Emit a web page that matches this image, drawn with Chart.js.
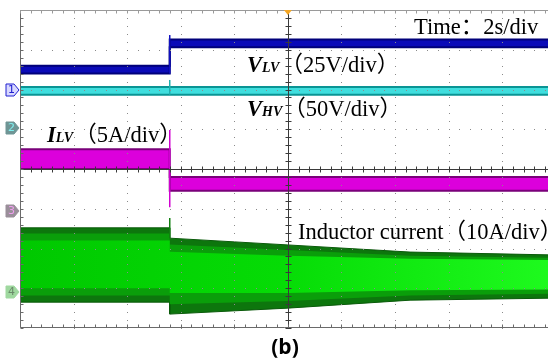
<!DOCTYPE html>
<html>
<head>
<meta charset="utf-8">
<script src="https://cdn.jsdelivr.net/npm/chart.js@4/dist/chart.umd.min.js"></script>
<style>
  html, body { margin: 0; padding: 0; background: #fff; }
  canvas { display: block; }
</style>
</head>
<body>
<canvas id="scope" width="548" height="363"></canvas>
<script>
// time in seconds (2 s/div), vertical values in divisions
const stepT = -4.41;
const tBand = [-10, stepT, stepT, 9.71];
const vlvHi = [2.60, 2.60, 3.26, 3.26];
const vlvLo = [2.40, 2.40, 3.06, 3.06];
const vhvHi = [2.06, 2.06, 2.06, 2.06];
const vhvLo = [1.87, 1.87, 1.87, 1.87];
const ilvHi = [0.50, 0.50, -0.20, -0.20];
const ilvLo = [0.00, 0.00, -0.55, -0.55];

const tInd = [-10, stepT, stepT, 0, 4.56, 9.71];
const indHi = [-1.48, -1.48, -1.74, -1.91, -2.09, -2.16];
const indLo = [-3.35, -3.35, -3.65, -3.50, -3.30, -3.25];
const indMidHi = [-1.62, -1.62, -1.90, -2.04, -2.18, -2.23];
const indMidLo = [-3.18, -3.18, -3.40, -3.32, -3.18, -3.14];
const indInHi = [-1.80, -1.80, -2.08, -2.18, -2.26, -2.29];
const indInLo = [-3.00, -3.00, -3.12, -3.12, -3.05, -3.03];

const tSpike = [stepT, stepT];
const vlvSpike = [2.40, 3.37];
const vhvSpike = [1.87, 2.24];
const ilvSpike = [0.98, -0.96];
const indSpike = [-1.23, -1.74];

const chLevels = [1.99, 1.03, -1.06, -3.09];
const chNames = ["1", "2", "3", "4"];

function pts(ts, vs) {
  return ts.map((t, i) => ({ x: t, y: vs[i] }));
}

function band(ts, hi, lo, fillColor, edgeColor, edgeWidth) {
  return [
    { data: pts(ts, hi), borderColor: edgeColor, borderWidth: edgeWidth, fill: false },
    { data: pts(ts, lo), borderColor: edgeColor, borderWidth: edgeWidth, fill: "-1", backgroundColor: fillColor }
  ];
}

function spike(vs, color) {
  return { data: pts(tSpike, vs), borderColor: color, borderWidth: 1.5, fill: false };
}

function greenFill(context) {
  const chart = context.chart;
  const a = chart.chartArea;
  if (!a) return "#00d000";
  const g = chart.ctx.createLinearGradient(a.left, 0, a.right, 0);
  g.addColorStop(0, "#00c800");
  g.addColorStop(0.5, "#06dc06");
  g.addColorStop(1, "#1efa1e");
  return g;
}

const datasets = [
  spike(vlvSpike, "#1010c0"),
  spike(vhvSpike, "#20b0b0"),
  spike(ilvSpike, "#d000d0"),
  spike(indSpike, "#108010"),
  ...band(tBand, vlvHi, vlvLo, "#0a0ab8", "#00007a", 2),
  ...band(tBand, vhvHi, vhvLo, "#40dede", "#0a9494", 2),
  ...band(tBand, ilvHi, ilvLo, "#dc00dc", "#7a007a", 2),
  ...band(tInd, indInHi, indInLo, greenFill, "rgba(0,0,0,0)", 0),
  ...band(tInd, indMidHi, indMidLo, "#0a9e0a", "rgba(0,0,0,0)", 0),
  ...band(tInd, indHi, indLo, "#0d760d", "#0a5a0a", 1)
];

const scopeGrid = {
  id: "scopeGrid",
  afterDatasetsDraw(chart) {
    const { ctx, chartArea: a, scales: { x, y } } = chart;
    ctx.save();
    // dotted division lines
    ctx.fillStyle = "#8a8a8a";
    for (let i = 1; i < 10; i++) {
      if (i === 5) continue;
      const px = Math.round(x.getPixelForValue(-10 + 2 * i));
      for (let j = 0; j <= 40; j++) {
        ctx.fillRect(px, Math.round(y.getPixelForValue(-4 + j * 0.2)), 1, 1);
      }
    }
    for (let j = 1; j < 8; j++) {
      if (j === 4) continue;
      const py = Math.round(y.getPixelForValue(-4 + j));
      for (let i = 0; i <= 50; i++) {
        const px = Math.round(x.getPixelForValue(-10 + i * 0.4));
        if (px <= a.right) ctx.fillRect(px, py, 1, 1);
      }
    }
    // centre lines with ticks
    const cx = Math.round(x.getPixelForValue(0)) + 0.5;
    const cy = Math.round(y.getPixelForValue(0)) + 0.5;
    ctx.strokeStyle = "#3a3a3a";
    ctx.lineWidth = 1;
    ctx.beginPath();
    ctx.moveTo(cx, a.top); ctx.lineTo(cx, a.bottom);
    ctx.moveTo(a.left, cy); ctx.lineTo(a.right, cy);
    for (let j = 0; j <= 40; j++) {
      const py = Math.round(y.getPixelForValue(-4 + j * 0.2)) + 0.5;
      ctx.moveTo(cx - 3, py); ctx.lineTo(cx + 3, py);
    }
    for (let i = 0; i <= 50; i++) {
      const px = Math.round(x.getPixelForValue(-10 + i * 0.4)) + 0.5;
      if (px > a.right) break;
      ctx.moveTo(px, cy - 3); ctx.lineTo(px, cy + 3);
    }
    ctx.stroke();
    // frame: left, top, bottom with inward ticks
    const l = a.left + 0.5, t = a.top + 0.5, b = a.bottom - 0.5;
    ctx.strokeStyle = "#6a6a6a";
    ctx.beginPath();
    ctx.moveTo(l, t); ctx.lineTo(l, b);
    ctx.moveTo(l, b); ctx.lineTo(a.right, b);
    for (let j = 0; j <= 40; j++) {
      const py = Math.round(y.getPixelForValue(-4 + j * 0.2)) + 0.5;
      ctx.moveTo(l, py); ctx.lineTo(l + 3, py);
    }
    for (let i = 0; i <= 50; i++) {
      const px = Math.round(x.getPixelForValue(-10 + i * 0.4)) + 0.5;
      if (px > a.right) break;
      ctx.moveTo(px, b); ctx.lineTo(px, b - 3);
    }
    ctx.stroke();
    ctx.strokeStyle = "#9a9a9a";
    ctx.beginPath();
    ctx.moveTo(l, t); ctx.lineTo(a.right, t);
    for (let i = 0; i <= 50; i++) {
      const px = Math.round(x.getPixelForValue(-10 + i * 0.4)) + 0.5;
      if (px > a.right) break;
      ctx.moveTo(px, t); ctx.lineTo(px, t + 3);
    }
    ctx.stroke();
    ctx.restore();
  }
};

function subLabel(ctx, x0, y0, main, sub, rest, size) {
  ctx.font = "italic bold " + size + "px 'Liberation Serif'";
  ctx.fillText(main, x0, y0);
  const w1 = ctx.measureText(main).width;
  ctx.font = "italic bold " + Math.round(size * 0.62) + "px 'Liberation Serif'";
  ctx.fillText(sub, x0 + w1, y0);
  const w2 = ctx.measureText(sub).width;
  ctx.font = size + "px 'Liberation Serif', 'Noto Sans CJK SC'";
  ctx.fillText(rest, x0 + w1 + w2 + 1, y0);
}

const scopeText = {
  id: "scopeText",
  afterDraw(chart) {
    const { ctx, chartArea: a, scales: { x, y } } = chart;
    ctx.save();
    // trigger marker
    const cx = x.getPixelForValue(0);
    ctx.fillStyle = "#f5a623";
    ctx.beginPath();
    ctx.moveTo(cx - 4, a.top); ctx.lineTo(cx + 4, a.top); ctx.lineTo(cx, a.top + 5);
    ctx.closePath(); ctx.fill();

    // channel markers
    const fills = ["#d8d8ff", "#6f9595", "#9a8f9a", "#9fd89f"];
    const strokes = ["#2020d0", "#6f9595", "#9a8f9a", "#9fd89f"];
    const texts = ["#2020d0", "#7ff0f0", "#f0a0f0", "#6a8a6a"];
    chLevels.forEach((lv, i) => {
      const yc = Math.round(y.getPixelForValue(lv));
      ctx.beginPath();
      ctx.moveTo(6, yc - 6); ctx.lineTo(14, yc - 6); ctx.lineTo(19, yc);
      ctx.lineTo(14, yc + 6); ctx.lineTo(6, yc + 6); ctx.closePath();
      ctx.fillStyle = fills[i]; ctx.fill();
      ctx.strokeStyle = strokes[i]; ctx.lineWidth = 1; ctx.stroke();
      ctx.fillStyle = texts[i];
      ctx.font = "11px 'DejaVu Sans'";
      ctx.textAlign = "center"; ctx.textBaseline = "middle";
      ctx.fillText(chNames[i], 11.5, yc + 0.5);
    });

    ctx.textAlign = "left"; ctx.textBaseline = "alphabetic";
    ctx.fillStyle = "#000";
    const fs = 22.5;
    ctx.font = fs + "px 'Liberation Serif', 'Noto Sans CJK SC'";
    ctx.fillText("Time：2s/div", 414, 34);
    subLabel(ctx, 247, 72, "V", "LV", "（25V/div）", fs);
    subLabel(ctx, 247, 116, "V", "HV", "（50V/div）", fs);
    subLabel(ctx, 47, 142, "I", "LV", "（5A/div）", fs);
    ctx.font = fs + "px 'Liberation Serif', 'Noto Sans CJK SC'";
    ctx.fillText("Inductor current（10A/div）", 298, 239);

    ctx.font = "bold 21px 'Open Sans'";
    ctx.textAlign = "center";
    ctx.fillText("(b)", 285, 354);
    ctx.restore();
  }
};

new Chart(document.getElementById("scope"), {
  type: "line",
  data: { datasets },
  options: {
    responsive: false,
    animation: false,
    layout: { padding: { left: 20, top: 10, right: 0, bottom: 35 } },
    scales: {
      x: { type: "linear", min: -10, max: 9.71, display: false },
      y: { min: -4, max: 4, display: false }
    },
    elements: { point: { radius: 0 }, line: { tension: 0 } },
    plugins: { legend: { display: false }, tooltip: { enabled: false } }
  },
  plugins: [scopeGrid, scopeText]
});
</script>
</body>
</html>
